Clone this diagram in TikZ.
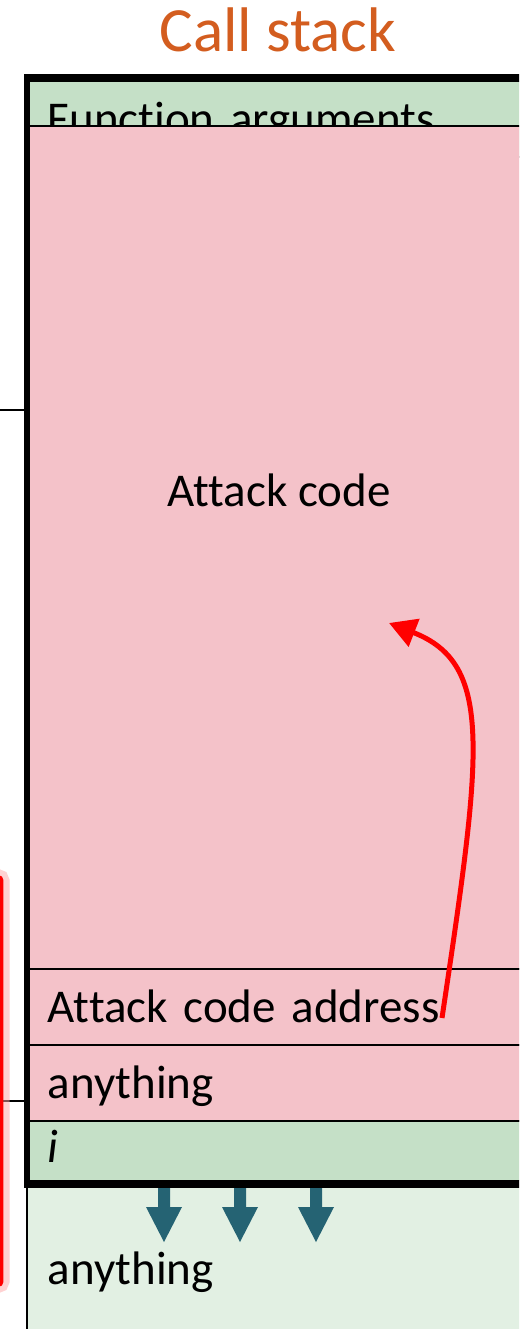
\documentclass[tikz,border=0pt]{standalone}
\usepackage{fontspec}
\setmainfont{Carlito}[Ligatures=NoCommon]
\usetikzlibrary{arrows.meta,positioning}
\definecolor{argsgreen}{RGB}{197,224,199}
\definecolor{attackpink}{RGB}{244,194,201}
\definecolor{lowgreen}{RGB}{226,240,227}
\definecolor{titleorange}{RGB}{211,93,31}
\definecolor{growteal}{RGB}{37,99,115}

\begin{document}
\begin{tikzpicture}[
        x=1pt, y=-1pt,
        cell/.style={draw, line width=1.8pt, anchor=north west, minimum width=504pt, text width=464pt,
            align=left, inner xsep=20pt, text height=32pt, text depth=0pt, font=\fontsize{47}{50}\selectfont},
        frame/.style={line width=6pt},
        attack/.style={-{Triangle[length=27pt, width=29pt]}, red, line width=5pt},
    ]
        \useasboundingbox (0,0) rectangle (519,1329);
        \clip (0,0) rectangle (519,1329);
        % stack cells
        \node[cell, fill=argsgreen, minimum height=76pt] (args) at (27,80) {Function arguments};
        \node[cell, fill=attackpink, minimum height=843pt] (code) at (27,125) {};
        \node[font=\fontsize{47}{50}\selectfont, anchor=base] (codelabel) at (279,506) {Attack code};
        \node[cell, fill=attackpink, minimum height=76pt] (addr) at (27,968) {Attack code address};
        \node[cell, fill=attackpink, minimum height=76pt] (pad) at (27,1044) {anything};
        \node[cell, fill=argsgreen, minimum height=60pt, text height=24pt, font=\fontsize{47}{50}\selectfont\itshape] (ivar) at (27,1120) {i};
        \node[cell, draw=none, fill=lowgreen, minimum height=170pt] (below) at (27,1183) {anything};
        \draw[line width=1.8pt] (below.north west) -- (below.south west);
        \foreach \x in {164,240,316}
            \fill[growteal] (\x-6,1186) -- (\x+6,1186) -- (\x+6,1207) -- (\x+18,1207) -- (\x,1242)
                -- (\x-18,1207) -- (\x-6,1207) -- cycle;
        \draw[frame] ([yshift=2.5pt]args.north west) rectangle ([yshift=-3pt]ivar.south east);
        % jump to the injected code
        \coordinate (jumpfrom) at (442,1018);
        \coordinate (jumpto) at (389,623);
        \draw[attack] (jumpfrom) .. controls (482,750) and (494,664) .. (jumpto);
        % left side
        \draw[line width=1.8pt] (0,410) -- (24,410);
        \draw[line width=1.8pt] (0,1101) -- (24,1101);
        \draw[red!35, line width=16pt, opacity=0.5, rounded corners=4pt] (-60,877) rectangle (1.5,1285);
        \draw[red, line width=3.5pt, rounded corners=3pt] (-60,877) rectangle (1.5,1285);
        \node[font=\fontsize{63}{70}\selectfont, text=titleorange, anchor=base] (title) at (278,52) {Call stack};
    \end{tikzpicture}
\end{document}
